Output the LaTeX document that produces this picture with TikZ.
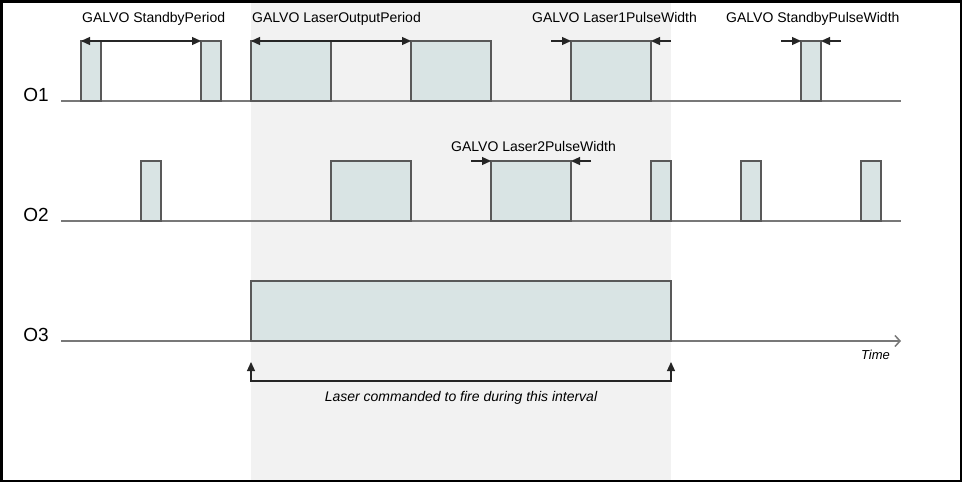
\documentclass[tikz,border=0pt]{standalone}
\usepackage{fontspec}
\setmainfont{Liberation Sans}
\usetikzlibrary{arrows.meta,positioning}
\definecolor{pulsefill}{RGB}{217,228,228}
\definecolor{pulseline}{RGB}{89,89,89}
\definecolor{sigline}{RGB}{120,120,120}
\definecolor{window}{RGB}{242,242,242}

\begin{document}
\begin{tikzpicture}[x=1pt,y=-1pt,>={Triangle[length=9pt,width=8pt]},
  pulse/.style={draw=pulseline,fill=pulsefill,line width=1.3pt,inner sep=0pt,
    outer sep=0pt,minimum height=60pt,anchor=south west},
  sig/.style={draw=sigline,line width=1.5pt},
  dim/.style={draw=black!85,line width=1.2pt},
  lbl/.style={font=\fontsize{14}{16}\selectfont,inner sep=0pt,anchor=base west},
  note/.style={font=\fontsize{14}{16}\selectfont\itshape,inner sep=0pt},
  chan/.style={font=\fontsize{19}{22}\selectfont,inner sep=0pt,anchor=east}]
\useasboundingbox (0,0) rectangle (962,482);
\fill[window] (251,0) rectangle (671,482);
% signal lines
\foreach \r/\y in {1/101,2/221,3/341}{
  \coordinate (s\r) at (61,\y);
  \coordinate (e\r) at (901,\y);
  \node[chan] (o\r) at (49,\y-6) {O\r};
}
\draw[sig] (s1) -- (e1);
\draw[sig] (s2) -- (e2);
\draw[sig,-{Straight Barb[length=5pt,width=11pt]}] (s3) -- (e3);
% pulses
\foreach \x/\w [count=\i] in {81/20,201/20,251/80,411/80,571/80,801/20}
  \node[pulse,minimum width=\w pt] (a\i) at (\x,101) {};
\foreach \x/\w [count=\i] in {141/20,331/80,491/80,651/20,741/20,861/20}
  \node[pulse,minimum width=\w pt] (b\i) at (\x,221) {};
\node[pulse,minimum width=420pt] (c1) at (251,341) {};
% periods and widths
\draw[dim,<->] (a1.north west) -- (a2.north west);
\draw[dim,<->] (a3.north west) -- (a4.north west);
\draw[dim,->] ([xshift=-20pt]a5.north west) -- (a5.north west);
\draw[dim,->] ([xshift=20pt]a5.north east) -- (a5.north east);
\draw[dim,->] ([xshift=-20pt]a6.north west) -- (a6.north west);
\draw[dim,->] ([xshift=20pt]a6.north east) -- (a6.north east);
\draw[dim,->] ([xshift=-20pt]b3.north west) -- (b3.north west);
\draw[dim,->] ([xshift=20pt]b3.north east) -- (b3.north east);
\node[lbl] (lsp) at (82,22) {GALVO StandbyPeriod};
\node[lbl] (lop) at (252,22) {GALVO LaserOutputPeriod};
\node[lbl] (lpw1) at (532,22) {GALVO Laser1PulseWidth};
\node[lbl] (spw) at (726,22) {GALVO StandbyPulseWidth};
\node[lbl] (lpw2) at (451,151) {GALVO Laser2PulseWidth};
% fire window
\coordinate (f1) at ([yshift=-40pt]c1.south west);
\coordinate (f2) at ([yshift=-40pt]c1.south east);
\draw[dim,<->] ([yshift=-21pt]c1.south west) -- (f1) -- (f2) -- ([yshift=-21pt]c1.south east);
\path (f1) -- (f2) node[note,midway,below=10pt] (fire) {Laser commanded to fire during this interval};
\node[note,anchor=north east,font=\fontsize{13}{15}\selectfont\itshape] (time) at ([xshift=-11pt,yshift=-9pt]e3) {Time};
\draw[line width=2.5pt] (1.25,1.25) rectangle (960.75,480.75);
\end{tikzpicture}
\end{document}
